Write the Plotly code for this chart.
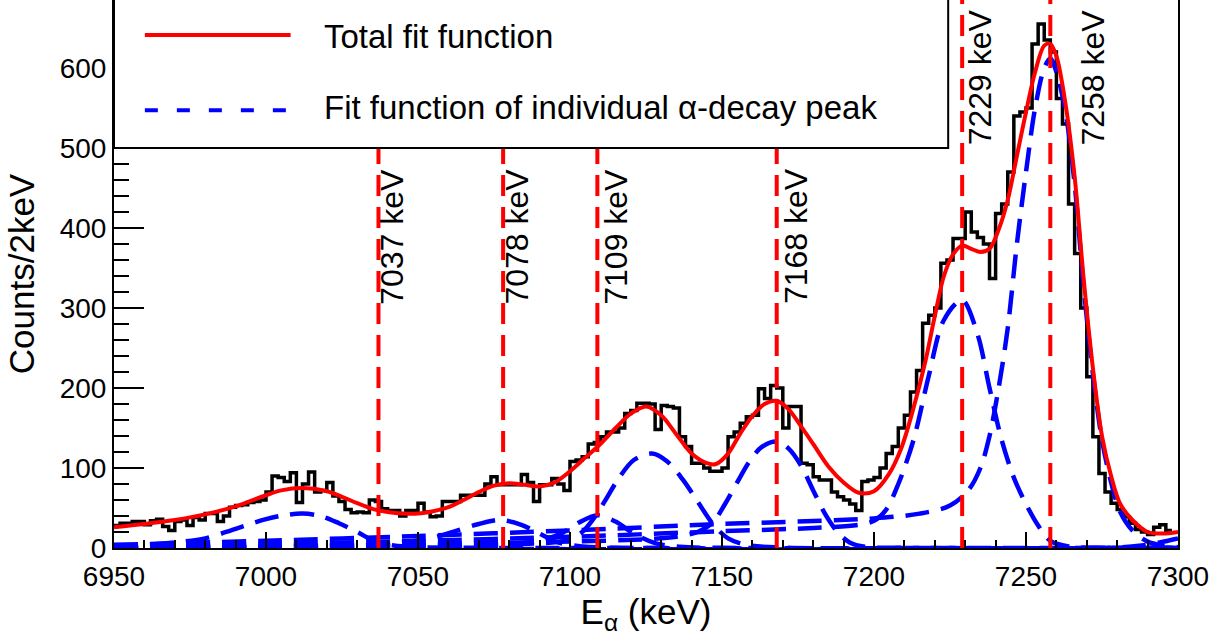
import numpy as np
import plotly.graph_objects as go

# histogram: 2 keV bins starting at 6950 keV
bin_start = 6950
bin_width = 2
counts = [28, 31, 31, 33, 33, 29, 34, 36, 27, 22,
          33, 35, 28, 38, 35, 43, 43, 33, 40, 51,
          53, 54, 57, 58, 60, 70, 90, 88, 83, 94,
          57, 80, 95, 70, 72, 82, 65, 58, 48, 44,
          45, 44, 60, 58, 49, 47, 47, 40, 47, 47,
          56, 45, 39, 40, 58, 58, 58, 66, 66, 66,
          66, 80, 89, 79, 79, 79, 79, 92, 82, 58,
          79, 79, 87, 80, 72, 108, 110, 114, 130, 132,
          139, 145, 145, 150, 168, 172, 181, 181, 180, 148,
          178, 177, 175, 139, 127, 106, 106, 100, 96, 96,
          100, 139, 145, 156, 164, 166, 199, 187, 203, 200,
          150, 177, 177, 106, 104, 89, 85, 85, 70, 64,
          60, 55, 47, 83, 85, 88, 100, 118, 127, 150,
          166, 195, 222, 281, 291, 300, 356, 360, 387, 387,
          420, 395, 388, 380, 337, 418, 430, 470, 540, 545,
          550, 630, 655, 635, 620, 562, 530, 430, 368, 300,
          214, 139, 93, 70, 56, 48, 39, 31, 23, 20,
          17, 26, 29, 22]

# total fit function (sampled off the figure)
total_x = [6950, 6960, 6970, 6980, 6990, 7000, 7005, 7012, 7020, 7025,
           7030, 7035, 7040, 7045, 7050, 7055, 7060, 7065, 7070, 7075,
           7080, 7085, 7090, 7095, 7100, 7105, 7110, 7115, 7120, 7125,
           7130, 7135, 7140, 7145, 7148, 7152, 7156, 7160, 7164, 7168,
           7172, 7176, 7180, 7185, 7190, 7195, 7200, 7205, 7209, 7213,
           7217, 7220, 7223, 7226, 7229, 7232, 7235, 7238, 7241, 7244,
           7247, 7250, 7253, 7256, 7258, 7260, 7263, 7266, 7269, 7272,
           7275, 7278, 7281, 7285, 7290, 7295, 7300]
total_y = [26, 30, 35, 42, 52, 66, 72, 75, 71, 64,
           56, 49, 45, 43, 43, 46, 51, 60, 70, 78,
           81, 79, 77, 82, 96, 113, 130, 150, 168, 177,
           166, 142, 118, 106, 105, 118, 143, 165, 180, 184,
           173, 152, 130, 102, 82, 69, 71, 93, 125, 175,
           235, 290, 340, 367, 378, 374, 370, 374, 398, 435,
           490, 545, 595, 628, 630, 615, 555, 464, 335, 225,
           140, 90, 55, 35, 20, 18, 20]

# individual alpha-decay peak components
c1_x = [6950, 6960, 6970, 6980, 6990, 7000, 7006, 7012, 7018, 7024, 7030, 7036, 7042, 7050, 7070, 7300]
c1_y = [2, 4, 7, 12, 24, 36, 41, 43, 40, 31, 20, 8, 3, 1, 0.2, 0]
c2_x = [6950, 7000, 7030, 7045, 7055, 7063, 7070, 7077, 7084, 7090, 7096, 7104, 7115, 7300]
c2_y = [0, 1, 3, 7, 13, 22, 30, 35, 29, 18, 7, 2, 0.3, 0]
c3_x = [6950, 7000, 7050, 7080, 7090, 7097, 7103, 7109, 7115, 7121, 7128, 7136, 7150, 7300]
c3_y = [0, 1, 3, 5, 9, 18, 32, 41, 33, 18, 6, 1.5, 0.2, 0]
c4_x = [6950, 7000, 7050, 7090, 7098, 7104, 7108, 7112, 7116, 7121, 7127, 7132, 7137, 7142,
        7147, 7152, 7158, 7170, 7300]
c4_y = [0, 2, 4, 6, 9, 20, 38, 62, 87, 110, 118, 108, 86, 58, 30, 12, 4, 0.5, 0]
c5_x = [6950, 7000, 7050, 7100, 7125, 7135, 7142, 7147, 7151, 7155, 7159, 7163, 7168, 7172,
        7176, 7180, 7184, 7188, 7192, 7197, 7210, 7300]
c5_y = [0.5, 3, 5, 8, 11, 14, 20, 32, 55, 82, 108, 126, 133, 124, 103, 72, 42, 20, 7, 1.5, 0.2, 0]
c6_x = [6950, 7000, 7050, 7100, 7150, 7180, 7195, 7200, 7204, 7208, 7213, 7218, 7223, 7229,
        7234, 7238, 7242, 7246, 7250, 7254, 7258, 7264, 7275, 7300]
c6_y = [1, 5, 9, 14, 21, 25, 29, 34, 48, 80, 135, 215, 285, 310, 268, 200, 135, 88, 55, 28, 9, 2, 0.2, 0]
c7_x = [6950, 7000, 7050, 7100, 7150, 7200, 7215, 7225, 7231, 7235, 7238, 7241, 7244, 7247,
        7250, 7253, 7256, 7258, 7260, 7263, 7266, 7269, 7272, 7275, 7278, 7281, 7285, 7290,
        7295, 7300]
c7_y = [4, 9, 15, 22, 30, 37, 43, 53, 72, 100, 140, 200, 275, 380, 470, 550, 600, 612, 595,
        545, 455, 325, 218, 135, 82, 45, 22, 8, 3, 1]
c8_x = [6950, 7280, 7288, 7294, 7300]
c8_y = [0, 0.5, 3, 7, 12]

peak_energies = [7037, 7078, 7109, 7168, 7229, 7258]
peak_labels = ['7037 keV', '7078 keV', '7109 keV', '7168 keV', '7229 keV', '7258 keV']

FONT = 'Liberation Sans, Arial, sans-serif'

edges = bin_start + bin_width * np.arange(len(counts) + 1)
hist_y = counts + [counts[-1]]

fig = go.Figure()
fig.add_trace(go.Scatter(x=edges, y=hist_y, mode='lines', line_shape='hv',
                         line=dict(color='black', width=3.5), showlegend=False))

for cx, cy in [(c1_x, c1_y), (c2_x, c2_y), (c3_x, c3_y), (c4_x, c4_y),
               (c5_x, c5_y), (c6_x, c6_y), (c7_x, c7_y), (c8_x, c8_y)]:
    fig.add_trace(go.Scatter(x=cx, y=cy, mode='lines',
                             line=dict(color='#0000ff', width=4.5, dash='24px,12px',
                                       shape='spline', smoothing=0.9),
                             showlegend=False))

fig.add_trace(go.Scatter(x=total_x, y=total_y, mode='lines',
                         line=dict(color='#ff0000', width=4, shape='spline', smoothing=0.9),
                         showlegend=False))

# vertical markers at the peak energies
for e in peak_energies:
    fig.add_shape(type='line', xref='x', yref='paper', x0=e, x1=e, y0=0, y1=1,
                  line=dict(color='#ff0000', width=4, dash='21px,11px'), layer='above')

# label placement (pixel shift, bottom value)
label_place = {7037: (-6, 302), 7078: (-6, 302), 7109: (-1, 302), 7168: (0, 302),
               7229: (-2, 501), 7258: (23, 501)}
for e, txt in zip(peak_energies, peak_labels):
    dx, yb = label_place[e]
    fig.add_annotation(x=e, y=yb, text=txt, textangle=-90, showarrow=False,
                       xanchor='left', yanchor='bottom', xshift=dx,
                       font=dict(family=FONT, size=32, color='black'))

# legend box drawn by hand (ROOT style TLegend)
fig.add_shape(type='rect', xref='paper', yref='paper', x0=0, x1=0.784, y0=0.730, y1=1.2,
              fillcolor='white', line=dict(color='black', width=2), layer='above')
fig.add_shape(type='line', xref='paper', yref='paper', x0=0.029, x1=0.166, y0=0.936, y1=0.936,
              line=dict(color='#ff0000', width=4), layer='above')
fig.add_shape(type='line', xref='paper', yref='paper', x0=0.029, x1=0.166, y0=0.799, y1=0.799,
              line=dict(color='#0000ff', width=4, dash='13px,19px'), layer='above')
fig.add_annotation(xref='paper', yref='paper', x=0.1955, y=0.934, text='Total fit function',
                   showarrow=False, xanchor='left', yanchor='middle',
                   font=dict(family=FONT, size=33, color='black'))
fig.add_annotation(xref='paper', yref='paper', x=0.1955, y=0.803,
                   text='Fit function of individual α-decay peak',
                   showarrow=False, xanchor='left', yanchor='middle',
                   font=dict(family=FONT, size=33, color='black'))

fig.update_layout(
    width=1228, height=640,
    margin=dict(l=114, r=50, t=0, b=92, pad=0, autoexpand=False),
    paper_bgcolor='white', plot_bgcolor='white',
    font=dict(family=FONT, color='black'),
    showlegend=False,
    xaxis=dict(range=[6950, 7300], showgrid=False, zeroline=False, automargin=False,
               showline=True, linecolor='black', linewidth=2, mirror=False,
               ticks='inside', ticklen=16, tickwidth=1.5, tickcolor='black',
               tickmode='linear', tick0=6950, dtick=50, ticklabelstandoff=2,
               minor=dict(dtick=10, ticklen=8, tickwidth=1.5, tickcolor='black', ticks='inside'),
               tickfont=dict(family=FONT, size=28),
               title=dict(text='E<sub>α</sub> (keV)', font=dict(family=FONT, size=35), standoff=0)),
    yaxis=dict(range=[0, 685], showgrid=False, zeroline=False, automargin=False,
               showline=True, linecolor='black', linewidth=2, mirror=True,
               ticks='inside', ticklen=30, tickwidth=1.5, tickcolor='black',
               tickmode='linear', tick0=0, dtick=100,
               minor=dict(dtick=20, ticklen=15, tickwidth=1.5, tickcolor='black', ticks='inside'),
               tickfont=dict(family=FONT, size=28),
               title=dict(text='Counts/2keV', font=dict(family=FONT, size=35), standoff=14)),
)

# drop the browser's default page margin so the figure fills the window exactly
fig.write_html("out.html", config={'displayModeBar': False},
               post_script="document.body.style.margin='0';")
